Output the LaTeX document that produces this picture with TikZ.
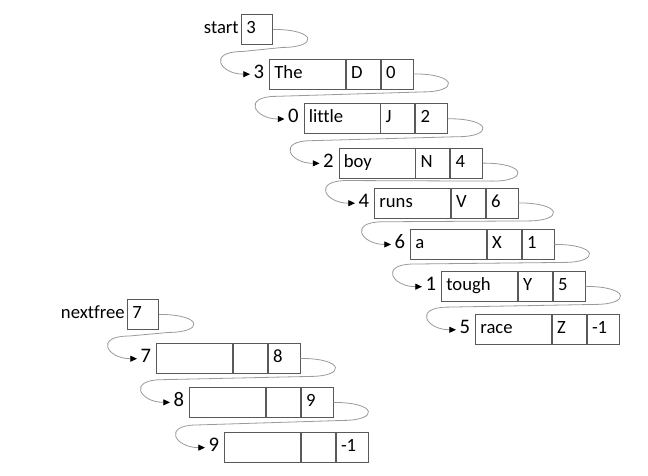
\documentclass[tikz,border=0pt]{standalone}
\usepackage{fontspec}
\setmainfont{Carlito}[Ligatures=CommonOff]
\usepackage{tikz}
\usetikzlibrary{arrows.meta,positioning,calc}
\definecolor{linkgray}{HTML}{9A9A9A}
\definecolor{cellline}{HTML}{595959}

\begin{document}
\begin{tikzpicture}[
  x=0.75pt,y=-0.75pt,
  font=\fontsize{14}{16}\selectfont,
  cell/.style={draw=cellline,line width=0.6pt,inner xsep=3.75pt,inner ysep=0pt,
               minimum height=22.5pt,text height=9.5pt,text depth=3.1pt,align=left},
  wordcell/.style={cell,anchor=north west,text width=49.5pt},
  tagcell/.style={cell,text width=18pt},
  nextcell/.style={cell,text width=16.5pt},
  ptrcell/.style={cell,anchor=north west,text width=15.75pt},
  lbl/.style={inner xsep=1.5pt,inner ysep=0pt,text height=9.5pt,text depth=3.1pt},
  idx/.style={anchor=base east,inner xsep=2.5pt,inner ysep=0pt,font=\fontsize{15.5}{17}\selectfont},
  link/.style={draw=linkgray,line width=0.6pt,-{Triangle[length=5pt,width=4.5pt,color=black]}}
]
  \useasboundingbox (0,0) rectangle (648,475);

  % list heads
  \node[ptrcell] (start) at (241,14) {3};
  \node[lbl,left=0pt of start] (startlbl) {start};
  \node[ptrcell] (nextfree) at (127,299) {7};
  \node[lbl,left=0pt of nextfree] (nextfreelbl) {nextfree};

  % records: index / x / y / word / tag / next
  \foreach \id/\x/\y/\word/\tag/\nxt in {
      3/269/58.5/The/D/0, 0/303.5/103.3/little/J/2, 2/338.5/147.7/boy/N/4,
      4/374/187.5/runs/V/6, 6/410/229/a/X/1, 1/441/271/tough/Y/5,
      5/475/314/race/Z/-1,
      7/156/343/{}/{}/8, 8/189/387/{}/{}/9, 9/224/432/{}/{}/-1}{
    \node[wordcell] (w\id) at (\x,\y) {\word};
    \node[tagcell,right=0pt of w\id] (t\id) {\tag};
    \node[nextcell,right=0pt of t\id] (n\id) {\nxt};
    \node[idx] (i\id) at ([xshift=-1pt]w\id.base west) {\id};
  }

  % links
  \foreach \a/\b in {start/i3, n3/i0, n0/i2, n2/i4, n4/i6, n6/i1, n1/i5,
                     nextfree/i7, n7/i8, n8/i9}
    \draw[link] (\a.east) .. controls +(45,0) and +(35,0) .. ($(\a.east)+(10,18)$)
      -- ($(\b.west)+(-8,-20)$) .. controls +(-35,0) and +(-30,0) .. ([yshift=-2pt]\b.west);
\end{tikzpicture}
\end{document}
